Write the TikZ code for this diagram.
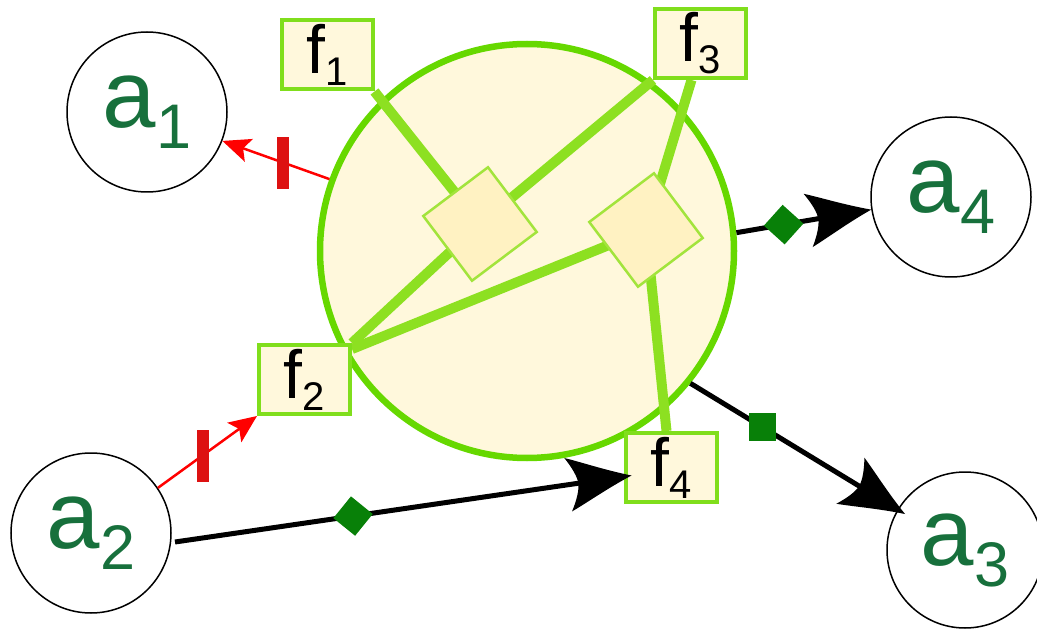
\documentclass[tikz,border=0pt]{standalone}
\usepackage{fontspec}
\setmainfont{Liberation Sans}
\usetikzlibrary{arrows.meta,calc}
\pgfdeclarelayer{bg}
\pgfdeclarelayer{mid}
\pgfsetlayers{bg,mid,main}
\pgfdeclarearrow{
  name = Swept,
  parameters = {\the\pgfarrowlength,\the\pgfarrowwidth},
  setup code = {
    \pgfarrowssettipend{0pt}
    \pgfarrowssetlineend{-.6\pgfarrowlength}
    \pgfarrowssetvisualbackend{-.85\pgfarrowlength}
    \pgfarrowsupperhullpoint{-\pgfarrowlength}{.5\pgfarrowwidth}
    \pgfarrowsupperhullpoint{0pt}{0pt}
    \pgfarrowssavethe\pgfarrowlength
    \pgfarrowssavethe\pgfarrowwidth
  },
  drawing code = {
    \pgfpathmoveto{\pgfqpoint{0pt}{0pt}}
    \pgfpathcurveto{\pgfqpoint{-.4\pgfarrowlength}{.17\pgfarrowwidth}}{\pgfqpoint{-.75\pgfarrowlength}{.38\pgfarrowwidth}}{\pgfqpoint{-\pgfarrowlength}{.5\pgfarrowwidth}}
    \pgfpathcurveto{\pgfqpoint{-.9\pgfarrowlength}{.3\pgfarrowwidth}}{\pgfqpoint{-.84\pgfarrowlength}{.12\pgfarrowwidth}}{\pgfqpoint{-.84\pgfarrowlength}{0pt}}
    \pgfpathcurveto{\pgfqpoint{-.84\pgfarrowlength}{-.12\pgfarrowwidth}}{\pgfqpoint{-.9\pgfarrowlength}{-.3\pgfarrowwidth}}{\pgfqpoint{-\pgfarrowlength}{-.5\pgfarrowwidth}}
    \pgfpathcurveto{\pgfqpoint{-.75\pgfarrowlength}{-.38\pgfarrowwidth}}{\pgfqpoint{-.4\pgfarrowlength}{-.17\pgfarrowwidth}}{\pgfqpoint{0pt}{0pt}}
    \pgfpathclose
    \pgfusepathqfill
  },
  defaults = {length = 60pt, width = 50pt}
}
\definecolor{cfill}{HTML}{FFF8DC}
\definecolor{cline}{HTML}{66D800}
\definecolor{gline}{HTML}{8DE021}
\definecolor{dfill}{HTML}{FFF2C2}
\definecolor{dline}{HTML}{A2E43C}
\definecolor{bline}{HTML}{80DE1C}
\definecolor{agreen}{HTML}{17703C}
\definecolor{mgreen}{HTML}{088008}
\definecolor{rbarc}{HTML}{DD1111}
\newcommand\atext[2]{\fontsize{96}{96}\selectfont #1\raisebox{-21pt}{\fontsize{63}{63}\selectfont #2}}
\newcommand\ftext[2]{\fontsize{68}{68}\selectfont #1\raisebox{-12pt}{\fontsize{40}{40}\selectfont #2}}
\begin{document}
\begin{tikzpicture}[x=1pt,y=-1pt,
  anode/.style={circle, draw=black, line width=1.5pt, minimum size=160pt, inner sep=0pt, text=agreen},
  fbox/.style={rectangle, draw=bline, fill=cfill, line width=4pt, minimum width=91pt, minimum height=69pt, inner sep=0pt},
  dnode/.style={rectangle, draw=dline, fill=dfill, line width=2.5pt, minimum size=81pt, rotate=37, inner sep=0pt},
  bigc/.style={circle, draw=cline, fill=cfill, line width=6.5pt, minimum size=414pt, inner sep=0pt},
  gedge/.style={gline, line width=10pt},
  blackarrow/.style={line width=5pt, -{Swept[length=64pt,width=54pt]}},
  redarrow/.style={red, line width=2.5pt, -{Stealth[length=28pt,width=24pt,inset=6pt]}},
  gdiam/.style={fill=mgreen, rectangle, minimum size=28pt, inner sep=0pt},
  gsq/.style={fill=mgreen, rectangle, minimum width=27pt, minimum height=28pt, inner sep=0pt},
  rbar/.style={fill=rbarc, rectangle, minimum width=12pt, minimum height=52pt, inner sep=0pt}]
\useasboundingbox (0,0) rectangle (1037,631);
\begin{pgfonlayer}{bg}
\node[bigc] (C) at (527,251) {};
\end{pgfonlayer}
\node[dnode] (D1) at (480,224) {};
\node[dnode] (D2) at (646,230) {};
\node[fbox] (f1) at (327,55) {\ftext{f}{1}};
\node[fbox] (f2) at (304.5,379.5) {\ftext{f}{2}};
\node[fbox] (f3) at (700.5,43.5) {\ftext{f}{3}};
\node[fbox] (f4) at (671.5,467.5) {\ftext{f}{4}};
\begin{pgfonlayer}{mid}
\draw[gedge] (f1.south east) -- (D1.center);
\draw[gedge] (f3.south west) -- (D1.center);
\draw[gedge] ($(f3.south)+(-9,0)$) -- (D2.center);
\draw[gedge] (f2.north east) -- (D1.center);
\draw[gedge] ($(f2.north east)+(0,6)$) -- (D2.center);
\draw[gedge] ($(f4.north)+(-5,0)$) -- (D2.center);
\end{pgfonlayer}
\node[anode] (a1) at (147,112) {\atext{a}{1}};
\node[anode] (a2) at (91,533) {\atext{a}{2}};
\node[anode, minimum size=156pt] (a3) at (965,550) {\atext{a}{3}};
\node[anode] (a4) at (951,197) {\atext{a}{4}};
\draw[blackarrow] (C.5) -- node[pos=0.35, gdiam, rotate=48] (m1) {} (a4.189);
\draw[blackarrow] (C.-39) -- node[pos=0.336, gsq] (m2) {} ($(a3.center)+(-60,-36)$);
\draw[blackarrow] ($(a2.center)+(84,9)$) -- node[pos=0.39, gdiam, rotate=51] (m3) {} ($(f4.center)+(-40,8)$);
\draw[redarrow] (C.160) -- node[pos=0.43, rbar] (r1) {} (a1.-21);
\draw[redarrow] (a2.34) -- node[pos=0.45, rbar] (r2) {} (f2.south west);
\end{tikzpicture}
\end{document}
